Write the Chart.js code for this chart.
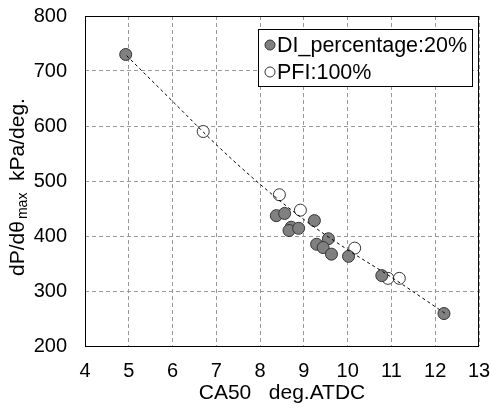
<!DOCTYPE html>
<html><head><meta charset="utf-8">
<script src="https://cdn.jsdelivr.net/npm/chart.js@4/dist/chart.umd.min.js"></script>
<style>html,body{margin:0;padding:0;background:#fff;overflow:hidden}#wrap{width:491px;height:408px;position:relative}</style>
</head><body><div id="wrap"><canvas id="c"></canvas></div>
<script>
// ---- data ----
const seriesNames = ['DI_percentage:20%', 'PFI:100%'];
const diX = [4.93, 8.37, 8.56, 8.71, 8.66, 8.88, 9.24, 9.29, 9.56, 9.44, 9.63, 10.02, 10.78, 12.20];
const diY = [730, 437, 441, 416, 410, 414, 428, 385, 395, 379, 367, 363, 328, 259];
const pfiX = [6.70, 8.44, 8.92, 10.16, 10.92, 11.18];
const pfiY = [590, 475, 447, 378, 323, 323];
const fitX = [4.95, 6, 7, 8, 9, 10, 11, 12.25];
const fitY = [728, 645, 566, 494, 430, 375, 325, 258];
const xTicks = [4, 5, 6, 7, 8, 9, 10, 11, 12, 13];
const yTicks = [200, 300, 400, 500, 600, 700, 800];
const xTitle = 'CA50   deg.ATDC';
const yTitleMain = 'dP/d\u03b8';
const yTitleSub = 'max';
const yTitleUnit = '  kPa/deg.';

const FONT = '"Liberation Sans", Arial, sans-serif';
const pts = (xs, ys) => xs.map((x, i) => ({x: x, y: ys[i]}));

const framePlugin = {
  id: 'frame',
  afterDatasetsDraw(chart) {
    const {ctx, chartArea: a} = chart;
    ctx.save();
    ctx.strokeStyle = '#000';
    ctx.lineWidth = 1;
    ctx.strokeRect(Math.round(a.left) + 0.5, Math.round(a.top) + 0.5, Math.round(a.right - a.left) - 1, Math.round(a.bottom - a.top));
    ctx.restore();
  },
  afterDraw(chart) {
    const {ctx, chartArea: a} = chart;
    ctx.save();
    const lx = 258, ly = 29, lw = 214, lh = 57;
    ctx.fillStyle = '#fff';
    ctx.fillRect(lx, ly, lw, lh);
    ctx.strokeStyle = '#000';
    ctx.lineWidth = 1;
    ctx.strokeRect(lx + 0.5, ly + 0.5, lw, lh);
    const ds = chart.data.datasets;
    [1, 2].forEach((k, i) => {
      const cy = ly + 16 + i * 27;
      ctx.beginPath();
      ctx.arc(lx + 12, cy, 5, 0, Math.PI * 2);
      ctx.fillStyle = ds[k].backgroundColor;
      ctx.fill();
      ctx.strokeStyle = ds[k].borderColor;
      ctx.lineWidth = 1;
      ctx.stroke();
      ctx.fillStyle = '#000';
      ctx.font = '21.5px ' + FONT;
      ctx.textBaseline = 'middle';
      ctx.textAlign = 'left';
      ctx.fillText(ds[k].label, lx + 19, cy + 1);
    });
    const cx = 17, cy = (a.top + a.bottom) / 2 + 6;
    ctx.translate(cx, cy);
    ctx.rotate(-Math.PI / 2);
    const big = '21px ' + FONT, small = '14px ' + FONT;
    ctx.font = big; const w1 = ctx.measureText(yTitleMain).width;
    const w3 = ctx.measureText(yTitleUnit).width;
    ctx.font = small; const w2 = ctx.measureText(yTitleSub).width + 2;
    let x0 = -(w1 + w2 + w3) / 2;
    ctx.fillStyle = '#000';
    ctx.textAlign = 'left';
    ctx.textBaseline = 'alphabetic';
    ctx.font = big; ctx.fillText(yTitleMain, x0, 7);
    ctx.font = small; ctx.fillText(yTitleSub, x0 + w1 + 2, 10);
    ctx.font = big; ctx.fillText(yTitleUnit, x0 + w1 + w2, 7);
    ctx.restore();
  }
};

new Chart(document.getElementById('c'), {
  type: 'scatter',
  data: {
    datasets: [
      {label: 'fit', type: 'line', data: pts(fitX, fitY), showLine: true, pointRadius: 0,
       borderColor: '#000', borderWidth: 1, borderDash: [3, 3], fill: false,
       cubicInterpolationMode: 'monotone', order: 0},
      {label: seriesNames[0], data: pts(diX, diY), backgroundColor: '#808080', borderColor: '#333',
       borderWidth: 1, pointRadius: 6, order: 1},
      {label: seriesNames[1], data: pts(pfiX, pfiY), backgroundColor: '#ffffff', borderColor: '#333',
       borderWidth: 1, pointRadius: 6, order: 2}
    ]
  },
  options: {
    responsive: true, maintainAspectRatio: false, animation: false, devicePixelRatio: 1,
    layout: {padding: {top: 16, right: 12, left: 0, bottom: 0}},
    plugins: {legend: {display: false}, tooltip: {enabled: false}},
    scales: {
      x: {
        type: 'linear', min: xTicks[0], max: xTicks[xTicks.length - 1],
        afterBuildTicks: s => { s.ticks = xTicks.map(v => ({value: v})); },
        afterFit: s => { s.height = 62; s.paddingLeft = 0; s.paddingRight = 0; },
        ticks: {color: '#000', font: {family: FONT, size: 20}, padding: 13, maxRotation: 0, autoSkip: false},
        grid: {color: '#999', lineWidth: 1, drawTicks: false, tickBorderDash: [4, 3]},
        border: {display: false, dash: [4, 3]},
        title: {display: true, text: xTitle, color: '#000', font: {family: FONT, size: 21}, padding: {top: 0, bottom: 2}}
      },
      y: {
        type: 'linear', min: yTicks[0], max: yTicks[yTicks.length - 1],
        afterBuildTicks: s => { s.ticks = yTicks.map(v => ({value: v})); },
        afterFit: s => { s.width = 85; s.paddingTop = 0; s.paddingBottom = 0; },
        ticks: {color: '#000', font: {family: FONT, size: 20}, padding: 18},
        grid: {color: '#999', lineWidth: 1, drawTicks: false, tickBorderDash: [4, 3]},
        border: {display: false, dash: [4, 3]}
      }
    }
  },
  plugins: [framePlugin]
});
</script></body></html>
